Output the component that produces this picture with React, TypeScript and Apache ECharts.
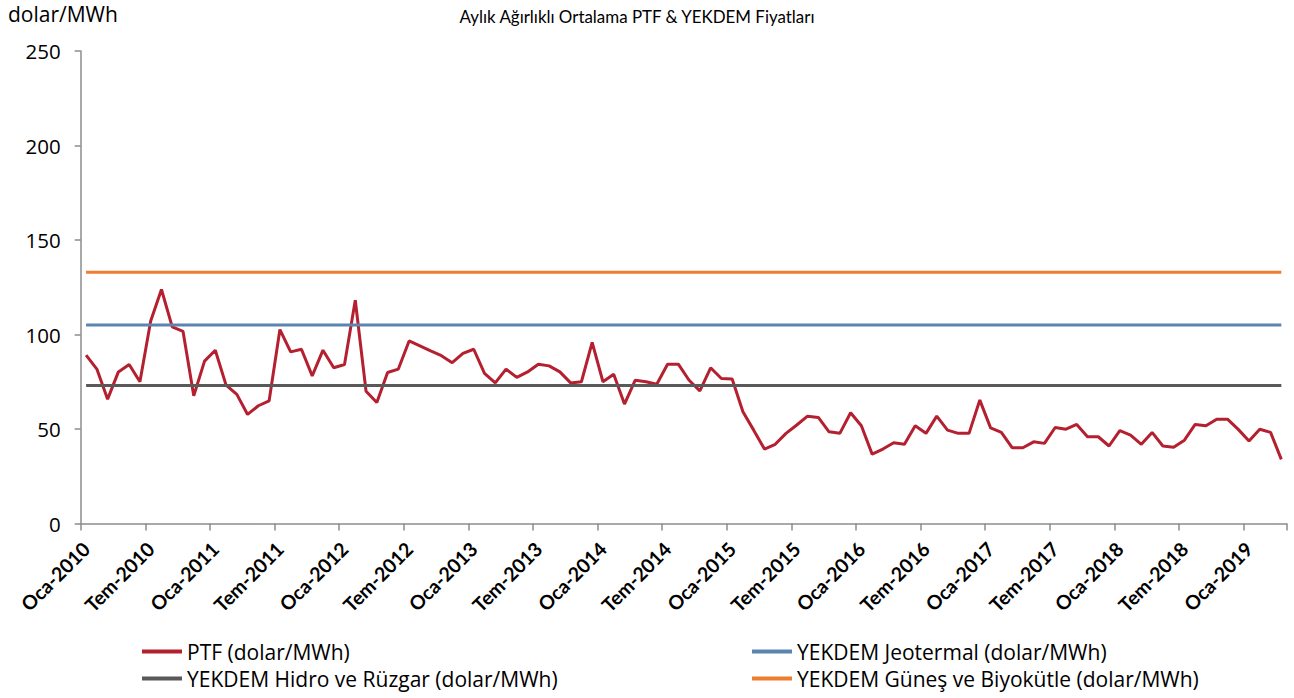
import React, { useEffect, useRef } from "react";
import * as echarts from "echarts";

const monthNames = ["Oca", "Şub", "Mar", "Nis", "May", "Haz", "Tem", "Ağu", "Eyl", "Eki", "Kas", "Ara"];
const startYear = 2010;

// Aylık ağırlıklı ortalama PTF (dolar/MWh), Oca-2010 .. Nis-2019
const ptf = [
  89.1, 81.7, 65.8, 80.2, 84.1, 75.0, 107.2, 123.8, 104.0, 101.7, 67.6, 85.9,
  91.7, 73.2, 68.3, 57.7, 62.3, 64.9, 102.6, 90.8, 92.2, 78.1, 91.7, 82.4,
  84.1, 118.1, 70.0, 64.0, 79.9, 81.7, 96.6, 94.0, 91.3, 88.8, 85.1, 90.0,
  92.2, 79.4, 74.4, 81.7, 77.3, 80.2, 84.3, 83.4, 80.2, 74.4, 75.0, 95.8,
  75.0, 79.0, 63.2, 75.8, 75.0, 73.7, 84.3, 84.3, 75.8, 70.2, 82.4, 76.7,
  76.5, 59.1, 49.4, 39.4, 41.9, 47.7, 52.1, 56.8, 56.1, 48.5, 47.7, 58.6,
  51.7, 36.7, 39.4, 42.7, 41.9, 51.7, 47.7, 56.8, 49.4, 47.7, 47.7, 65.3,
  50.6, 48.2, 40.1, 40.1, 43.2, 42.4, 50.8, 49.9, 52.4, 45.9, 45.9, 41.0,
  49.1, 46.8, 41.9, 48.2, 41.0, 40.3, 44.1, 52.4, 51.7, 55.2, 55.2, 49.8,
  43.6, 49.9, 48.2, 33.9,
];

const yekdemHidro = 73;
const yekdemJeotermal = 105;
const yekdemGunes = 133;

const yTicks = [0, 50, 100, 150, 200, 250];

const categories = ptf.map((_, i) => `${monthNames[i % 12]}-${startYear + Math.floor(i / 12)}`);

const seriesNames = {
  ptf: "PTF (dolar/MWh)",
  jeo: "YEKDEM Jeotermal (dolar/MWh)",
  hidro: "YEKDEM Hidro ve Rüzgar (dolar/MWh)",
  gunes: "YEKDEM Güneş ve Biyokütle (dolar/MWh)",
};

const flat = (v: number) => [
  [categories[0], v],
  [categories[categories.length - 1], v],
];

export default function App() {
  const ref = useRef<HTMLDivElement>(null);
  useEffect(() => {
    if (!ref.current) return;
    const chart = echarts.init(ref.current, undefined, { renderer: "svg" });
    const makeLegend = (data: string[], left: number) => ({
      type: "plain",
      data,
      orient: "vertical",
      left,
      top: 641,
      height: 120,
      padding: 0,
      itemGap: 6,
      itemWidth: 40,
      itemHeight: 4,
      icon: "rect",
      textStyle: { fontFamily: "Open Sans", fontSize: 21, color: "#000", lineHeight: 21 },
    });
    chart.setOption({
      animation: false,
      backgroundColor: "#fff",
      grid: { left: 80.7, right: 7.3, top: 51, bottom: 174.5 },
      graphic: [
        {
          type: "text",
          x: 637,
          y: 16,
          scaleX: 0.94,
          style: {
            text: "Aylık Ağırlıklı Ortalama PTF & YEKDEM Fiyatları",
            font: "18px Lato",
            fill: "#000",
            textAlign: "center",
            textVerticalAlign: "middle",
          },
        },
        {
          type: "text",
          x: 8,
          y: 14,
          style: {
            text: "dolar/MWh",
            font: "21px 'Open Sans'",
            fill: "#000",
            textAlign: "left",
            textVerticalAlign: "middle",
          },
        },
      ],
      legend: [
        makeLegend([seriesNames.ptf, seriesNames.hidro], 142),
        makeLegend([seriesNames.jeo, seriesNames.gunes], 752),
      ],
      xAxis: {
        type: "category",
        data: categories,
        boundaryGap: true,
        axisLine: { lineStyle: { color: "#8c8c8c", width: 1.5 } },
        axisTick: { show: true, interval: 5, length: 7, lineStyle: { color: "#8c8c8c", width: 1.5 } },
        axisLabel: {
          interval: 5,
          rotate: 45,
          margin: 22,
          fontFamily: "Lato",
          fontWeight: "bold",
          fontSize: 19.5,
          color: "#000",
        },
        splitLine: { show: false },
      },
      yAxis: {
        type: "value",
        min: yTicks[0],
        max: yTicks[yTicks.length - 1],
        interval: 50,
        axisLine: { show: true, lineStyle: { color: "#8c8c8c", width: 1.5 } },
        axisTick: { show: true, length: 6, lineStyle: { color: "#8c8c8c", width: 1.5 } },
        axisLabel: { margin: 20, fontFamily: "Open Sans", fontSize: 20.5, color: "#000" },
        splitLine: { show: false },
      },
      series: [
        {
          name: seriesNames.ptf,
          type: "line",
          data: ptf,
          symbol: "none",
          lineStyle: { color: "#B4202F", width: 3 },
          itemStyle: { color: "#B4202F" },
        },
        {
          name: seriesNames.hidro,
          type: "line",
          data: flat(yekdemHidro),
          symbol: "none",
          lineStyle: { color: "#595959", width: 3 },
          itemStyle: { color: "#595959" },
        },
        {
          name: seriesNames.jeo,
          type: "line",
          data: flat(yekdemJeotermal),
          symbol: "none",
          lineStyle: { color: "#5B84AF", width: 3 },
          itemStyle: { color: "#5B84AF" },
        },
        {
          name: seriesNames.gunes,
          type: "line",
          data: flat(yekdemGunes),
          symbol: "none",
          lineStyle: { color: "#ED7D31", width: 3 },
          itemStyle: { color: "#ED7D31" },
        },
      ],
    });
    return () => chart.dispose();
  }, []);
  return (
    <div
      ref={ref}
      style={{ position: "fixed", left: 0, top: 0, width: 1294, height: 698 }}
    />
  );
}
